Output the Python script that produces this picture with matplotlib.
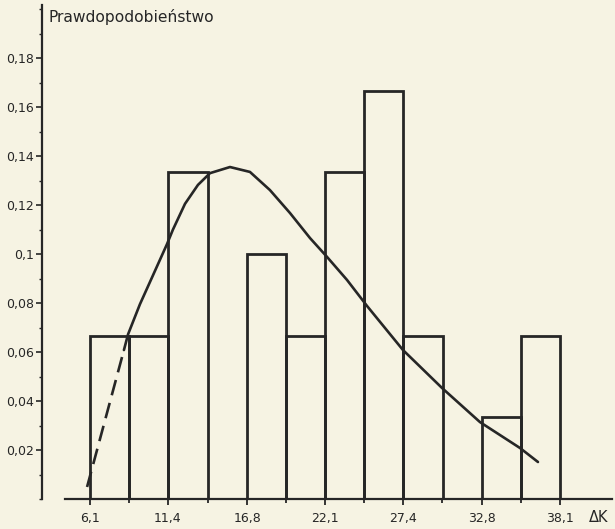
import matplotlib
matplotlib.use("Agg")
import matplotlib.pyplot as plt
from matplotlib.ticker import MultipleLocator

# ---- data ----
bin_edges = [6.1, 8.75, 11.4, 14.1, 16.8, 19.45, 22.1, 24.75, 27.4, 30.1, 32.8, 35.45, 38.1]
probabilities = [0.0667, 0.0667, 0.1333, 0.0, 0.1, 0.0667, 0.1333, 0.1667, 0.0667, 0.0, 0.0333, 0.0667]
x_tick_values = [6.1, 11.4, 16.8, 22.1, 27.4, 32.8, 38.1]
x_tick_labels = ["6,1", "11,4", "16,8", "22,1", "27,4", "32,8", "38,1"]
y_tick_values = [0.02, 0.04, 0.06, 0.08, 0.1, 0.12, 0.14, 0.16, 0.18]
y_tick_labels = ["0,02", "0,04", "0,06", "0,08", "0,1", "0,12", "0,14", "0,16", "0,18"]

# fitted density curve (dashed part, then solid part)
curve_dashed_x = [5.90, 8.41]
curve_dashed_y = [0.0049, 0.0608]
curve_x = [8.41, 8.69, 9.50, 10.32, 11.34, 11.75, 12.57, 13.45, 14.27, 15.63, 16.99,
           18.35, 19.72, 21.08, 22.24, 23.60, 24.96, 27.41, 30.07, 32.65, 35.38, 36.60]
curve_y = [0.0608, 0.0672, 0.0795, 0.0904, 0.1040, 0.1100, 0.1205, 0.1282, 0.1330, 0.1355,
           0.1335, 0.1261, 0.1167, 0.1065, 0.0988, 0.0894, 0.0788, 0.0608, 0.0453, 0.0314,
           0.0208, 0.0151]

bg = "#f6f3e3"
ink = "#262626"

fig = plt.figure(figsize=(6.15, 5.29), dpi=100, facecolor=bg)
W, H = 615, 529
left_px, right_px, bottom_px, top_px = 42, 612, 499, 5
ax = fig.add_axes([left_px / W, (H - bottom_px) / H, (right_px - left_px) / W,
                   (bottom_px - top_px) / H])
ax.set_facecolor(bg)

# pixel -> data mapping: 6.1 at px 90, 38.1 at px 560
sx = (38.1 - 6.1) / (560 - 90)
ax.set_xlim(6.1 - (90 - left_px) * sx, 6.1 + (right_px - 90) * sx)
ax.set_ylim(0, (bottom_px - top_px) / 2450)

widths = [bin_edges[i + 1] - bin_edges[i] for i in range(len(probabilities))]
for i, p in enumerate(probabilities):
    if p > 0:
        ax.bar(bin_edges[i], p, width=widths[i], align="edge", fill=False,
               edgecolor=ink, linewidth=2.0, zorder=3)

ax.plot(curve_dashed_x, curve_dashed_y, color=ink, lw=1.9, ls=(0, (6, 3)), zorder=4)
ax.plot(curve_x, curve_y, color=ink, lw=1.9, zorder=4, solid_capstyle="round",
        solid_joinstyle="round")

# x axis line (starts a bit right of y axis)
x_axis_start = 6.1 - (90 - 65) * sx
ax.plot([x_axis_start, ax.get_xlim()[1]], [0, 0], color=ink, lw=1.6, clip_on=False, zorder=5)

for s in ["top", "right", "bottom"]:
    ax.spines[s].set_visible(False)
ax.spines["left"].set_color(ink)
ax.spines["left"].set_linewidth(1.6)

ax.set_xticks(x_tick_values)
ax.set_xticklabels(x_tick_labels)
ax.set_xticks(bin_edges, minor=True)
ax.set_yticks(y_tick_values)
ax.set_yticklabels(y_tick_labels)
ax.yaxis.set_minor_locator(MultipleLocator(0.01))
ax.tick_params(axis="x", which="major", direction="out", length=4, width=1.3, color=ink,
               pad=5.5, labelsize=9, labelcolor=ink)
ax.tick_params(axis="x", which="minor", direction="out", length=3, width=1.3, color=ink)
ax.tick_params(axis="y", which="major", direction="out", length=4, width=1.2,
               color=ink, pad=1.5, labelsize=9, labelcolor=ink)
ax.tick_params(axis="y", which="minor", direction="out", length=2.5, width=1.0, color=ink)

fig.text(599 / W, 1 - 517 / H, "ΔK", ha="center", va="center", fontsize=10.5, color=ink)

fig.text(48 / W, 1 - 17 / H, "Prawdopodobieństwo", ha="left", va="center",
         fontsize=11.2, color=ink)

fig.savefig("out.png", dpi=100, facecolor=bg)
